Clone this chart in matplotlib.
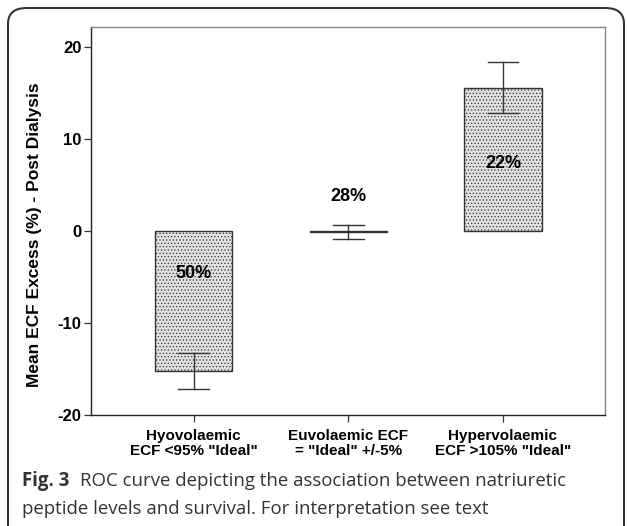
import matplotlib.pyplot as plt
from matplotlib.patches import FancyBboxPatch

# data
categories = ['Hyovolaemic\nECF <95% "Ideal"', 'Euvolaemic ECF\n= "Ideal" +/-5%', 'Hypervolaemic\nECF >105% "Ideal"']
means = [-15.2, -0.1, 15.6]
err_low = [-17.2, -0.9, 12.9]
err_high = [-13.3, 0.7, 18.4]
pct_labels = ['50%', '28%', '22%']
pct_y = [-4.6, 3.8, 7.3]

plt.rcParams['font.family'] = ['Liberation Sans', 'DejaVu Sans']
plt.rcParams['hatch.color'] = '#8a8a8a'
plt.rcParams['hatch.linewidth'] = 0.5

fig = plt.figure(figsize=(6.27, 5.26), dpi=100)
ax = fig.add_axes([91 / 627, 1 - 415 / 526, (605 - 91) / 627, (415 - 27) / 526])

x = list(range(len(categories)))
ax.bar(x, means, width=0.5, color='#e0e0e0', edgecolor='#333333', linewidth=1.0, hatch='.....')

# error bars
for i in x:
    ax.plot([i, i], [err_low[i], err_high[i]], color='#333333', lw=1.0)
    for v in (err_low[i], err_high[i]):
        ax.plot([i - 0.1, i + 0.1], [v, v], color='#333333', lw=1.0)
    ax.text(i, pct_y[i], pct_labels[i], ha='center', va='center', fontsize=13, fontweight='bold')

ax.set_xlim(-0.665, 2.66)
ax.set_ylim(-20, 22.2)
ax.set_yticks([-20, -10, 0, 10, 20])
ax.set_yticklabels(['-20', '-10', '0', '10', '20'], fontsize=12, fontweight='bold')
ax.set_xticks(x)
ax.set_xticklabels(categories, fontsize=11, fontweight='bold', linespacing=1.1)
ax.tick_params(axis='both', length=5, width=0.9, color='#333333')
ax.tick_params(axis='x', pad=5)
ax.tick_params(axis='y', pad=2)
for s in ['left', 'bottom']:
    ax.spines[s].set_color('#222222')
    ax.spines[s].set_linewidth(1.0)
for s in ['top', 'right']:
    ax.spines[s].set_color('#888888')
    ax.spines[s].set_linewidth(1.0)
ax.set_ylabel('Mean ECF Excess (%) - Post Dialysis', fontsize=12.5, fontweight='bold')
ax.yaxis.set_label_coords(-0.095, 0.465)

# outer frame
box = FancyBboxPatch((8 / 627, -0.05), (624 - 8) / 627, 1.05 - 8 / 526,
                     boxstyle='round,pad=0,rounding_size=0.03', transform=fig.transFigure,
                     fill=False, edgecolor='#333333', linewidth=1.5, clip_on=False)
fig.patches.append(box)

# caption
cap_font = ['Open Sans', 'DejaVu Sans']
fig.text(22 / 627, 1 - 481 / 526, 'Fig. 3', fontsize=13.4, fontweight='bold', color='#333333',
         family=cap_font, va='center')
fig.text(80 / 627, 1 - 481 / 526, 'ROC curve depicting the association between natriuretic',
         fontsize=13.4, color='#333333', family=cap_font, va='center')
fig.text(22 / 627, 1 - 509 / 526, 'peptide levels and survival. For interpretation see text',
         fontsize=13.4, color='#333333', family=cap_font, va='center')

fig.savefig('out.png', dpi=100)
